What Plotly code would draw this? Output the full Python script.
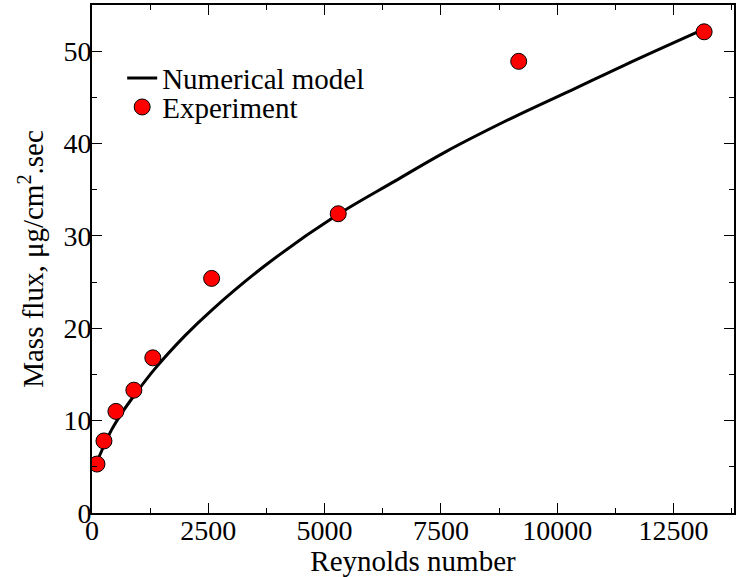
import plotly.graph_objects as go

# Numerical model curve
model_re = [120, 250, 420, 650, 920, 1350, 2000, 2570, 3750, 5250, 6500, 7600, 9000, 10400, 11450, 13250]
model_flux = [5.7, 7.2, 9.0, 10.9, 12.8, 15.6, 19.2, 21.95, 26.9, 32.2, 35.9, 39.1, 42.7, 46.0, 48.5, 52.6]

# Experimental points
exp_re = [107, 257, 514, 900, 1307, 2571, 5293, 9172, 13158]
exp_flux = [5.3, 7.8, 11.0, 13.3, 16.8, 25.4, 32.4, 48.9, 52.1]

x_ticks = [0, 2500, 5000, 7500, 10000, 12500]
x_labels = ["0", "2500", "5000", "7500", "10000", "12500"]
y_ticks = [0, 10, 20, 30, 40, 50]
y_labels = ["0", "10", "20", "30", "40", "50"]

FONT = "'Liberation Serif', 'DejaVu Serif', 'Times New Roman', serif"

fig = go.Figure()
fig.add_trace(go.Scatter(x=model_re, y=model_flux, mode="lines",
                         line=dict(color="black", width=3, shape="spline", smoothing=1.0),
                         name="Numerical model", legend="legend"))
fig.add_trace(go.Scatter(x=exp_re, y=exp_flux, mode="markers",
                         marker=dict(color="#ff0000", size=16,
                                     line=dict(color="black", width=1)),
                         name="Experiment", legend="legend2"))

axis_common = dict(showline=True, linecolor="black", linewidth=2, mirror="ticks",
                   ticks="inside", ticklen=10, tickwidth=1, tickcolor="black",
                   showgrid=False, zeroline=False,
                   tickfont=dict(family=FONT, size=28, color="black"))

fig.update_xaxes(range=[0, 13800], tickvals=x_ticks, ticktext=x_labels,
                 ticklabelstandoff=-9,
                 minor=dict(ticks="inside", ticklen=5, dtick=1250, tick0=0, tickcolor="black"),
                 title=dict(text="Reynolds number", font=dict(family=FONT, size=29, color="black"),
                            standoff=2),
                 **axis_common)
fig.update_yaxes(range=[0, 55], tickvals=y_ticks, ticktext=y_labels,
                 ticklabelstandoff=-7,
                 minor=dict(ticks="inside", ticklen=5, dtick=5, tick0=0, tickcolor="black"),
                 title=dict(text="Mass flux, μg/cm<sup>2</sup>.sec",
                            font=dict(family=FONT, size=29, color="black"), standoff=11),
                 **axis_common)

leg_common = dict(x=0.047, xanchor="left", yanchor="middle",
                  bgcolor="rgba(0,0,0,0)", borderwidth=0,
                  font=dict(family=FONT, size=29, color="black"), itemwidth=30)

fig.update_layout(width=737, height=577,
                  margin=dict(l=92, r=1, t=5, b=64),
                  plot_bgcolor="white", paper_bgcolor="white",
                  showlegend=True,
                  legend=dict(y=0.856, **leg_common),
                  legend2=dict(y=0.799, **leg_common))

fig.write_html("out.html")
